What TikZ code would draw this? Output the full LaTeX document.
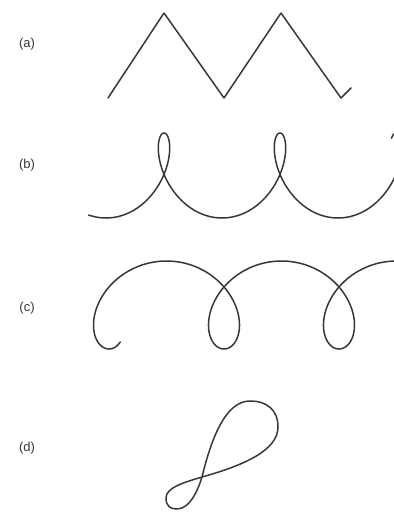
\documentclass[tikz,border=0pt]{standalone}
\usepackage{fontspec}
\setmainfont{Liberation Sans}
\definecolor{InkGray}{HTML}{383838}

\begin{document}
\begin{tikzpicture}[
    x=1pt, y=-1pt,
    trace/.style={draw=InkGray, line width=1.5pt, line join=round, line cap=round},
    caselabel/.style={text=InkGray, font=\fontsize{13}{15}\selectfont, inner sep=0pt}
  ]
    \useasboundingbox (0,0) rectangle (394,512);
    \fill[white] (0,0) rectangle (394,512);
    \clip (0,0) rectangle (394,512);

    % case labels
    \node[caselabel] (lbla) at (27,44) {(a)};
    \node[caselabel] (lblb) at (27,165) {(b)};
    \node[caselabel] (lblc) at (27,308) {(c)};
    \node[caselabel] (lbld) at (27,448) {(d)};

    % (a) zigzag
    \draw[trace] (108,98) -- (164,13) -- (224,98) -- (281,13) -- (341,98) -- (351,88);

    % (b) small loops on top
    \draw[trace] plot[domain=-3.52:13.07, samples=260, variable=\t]
      ({164 + 18.46*\t - 28.5*sin(\t r)}, {175.5 - 42.5*cos(\t r)});

    % (c) loops underneath
    \draw[trace] plot[domain=-6.856:9.5, samples=260, variable=\t]
      ({224 + 18.3*\t - 40*sin(\t r)}, {305 + 44*cos(\t r)});

    % (d) figure of eight
    \draw[trace] (202,477) .. controls (211,440) and (225,401) .. (250,401)
      .. controls (267,401) and (278,410) .. (278,427)
      .. controls (278,450) and (245,465) .. (202,477)
      .. controls (182,483) and (166,488) .. (166,498)
      .. controls (166,506) and (170,509) .. (177,509)
      .. controls (190,509) and (198,490) .. cycle;
  \end{tikzpicture}
\end{document}
